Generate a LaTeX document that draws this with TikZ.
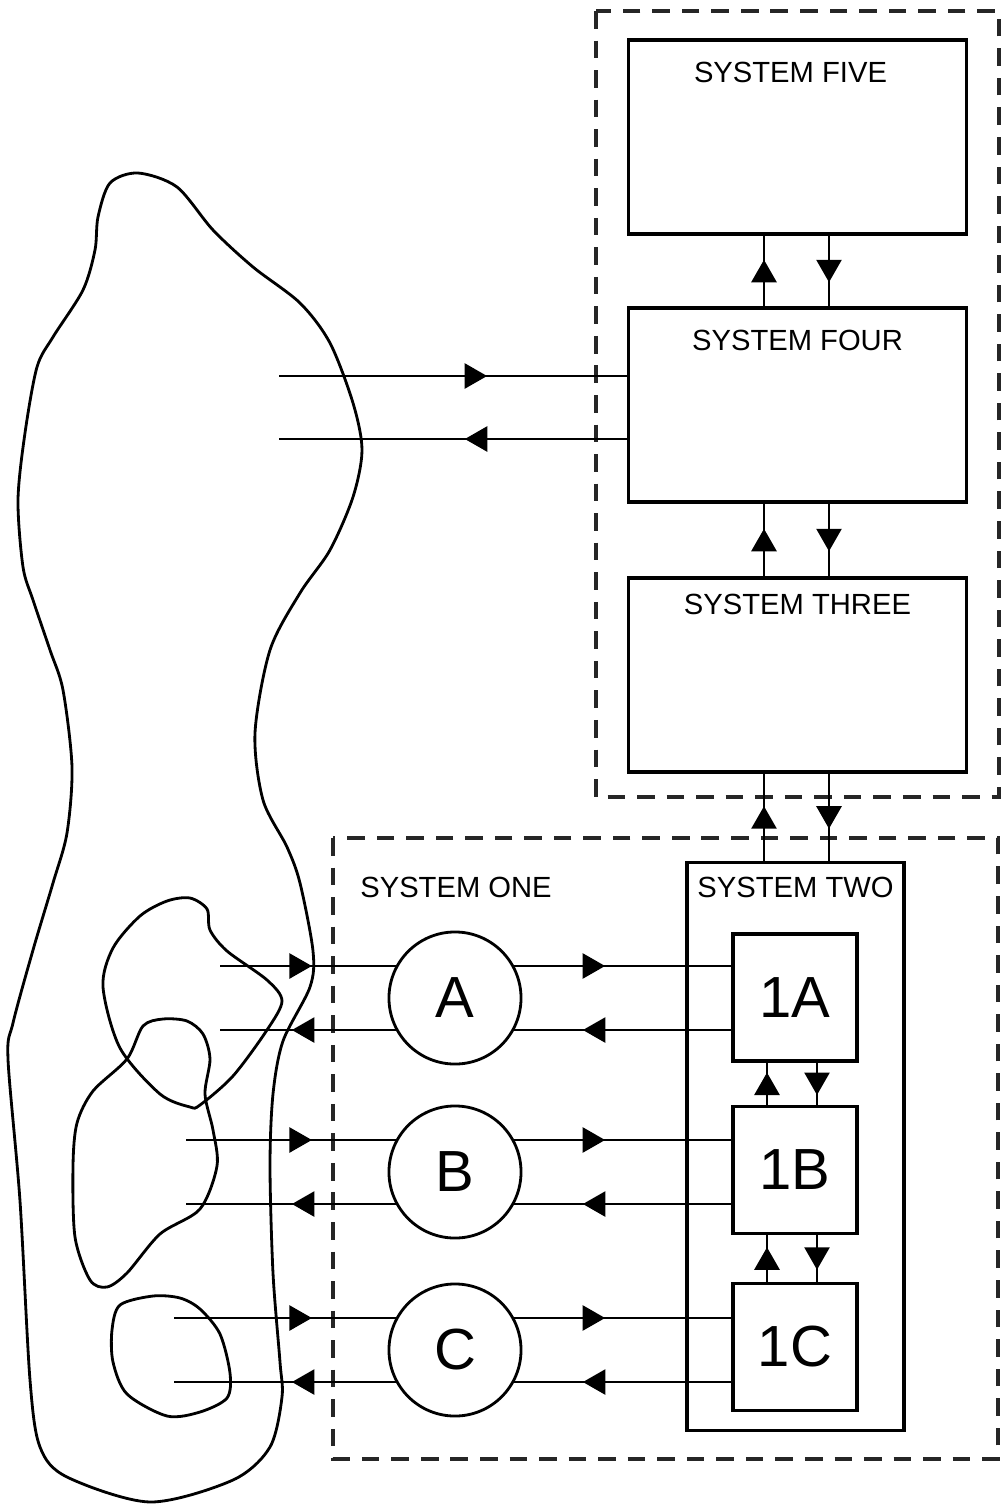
\documentclass[tikz,border=0pt]{standalone}
\usepackage{fontspec}
\setmainfont{Liberation Sans}
\usetikzlibrary{arrows.meta}
\usetikzlibrary{positioning}
\usetikzlibrary{decorations.markings}

\tikzset{
  sys/.style={draw, line width=0.9pt, inner sep=0pt, outer sep=0pt, minimum width=3.37cm, minimum height=1.94cm},
  unit/.style={draw, line width=0.9pt, inner sep=0pt, outer sep=0pt, minimum width=1.24cm, minimum height=1.27cm, font=\fontsize{16.5}{18}\selectfont},
  op/.style={draw, circle, line width=0.8pt, inner sep=0pt, outer sep=0pt, minimum size=1.32cm, font=\fontsize{16.5}{18}\selectfont},
  lbl/.style={inner sep=0pt, font=\fontsize{8.3}{10}\selectfont},
  grp/.style={draw=black!85, line width=0.9pt, dash pattern=on 5pt off 3.4pt},
  wire/.style={line width=0.8pt},
  tipat/.style={postaction={decorate}, decoration={markings, mark=at position #1 with {\arrow{Triangle[length=6.4pt,width=7.1pt]}}}},
  mid/.style={postaction={decorate}, decoration={markings, mark=at position 0.5 with {\arrow[xshift=3.2pt]{Triangle[length=6.4pt,width=7.1pt]}}}}
}

\begin{document}
\begin{tikzpicture}[x=0.01cm, y=-0.01cm]
  \useasboundingbox (0,0) rectangle (1001,1505);

  % environment
  \draw[line width=0.8pt] plot[smooth cycle] coordinates {(138,173) (177,187) (213,230) (253,267) (300,303) (330,343) (353,403) (362,450) (353,497) (330,550) (300,593) (270,650) (255,733) (263,800) (287,847) (300,883) (313,951) (310,987) (283,1041) (273,1094) (270,1166) (273,1273) (280,1362) (282,1397) (270,1447) (233,1480) (150,1502) (67,1477) (40,1447) (30,1380) (20,1201) (8,1059) (13,1023) (33,950) (53,883) (67,833) (72,767) (63,690) (50,650) (33,600) (23,567) (18,500) (25,433) (37,367) (53,337) (83,290) (95,250) (98,217) (110,183)};
  \draw[line width=0.8pt] plot[smooth cycle] coordinates {(190,898) (207,909) (210,930) (227,951) (267,980) (282,1001) (267,1030) (233,1076) (200,1105) (190,1107) (160,1094) (120,1048) (103,987) (113,948) (140,916) (167,901)};
  \draw[line width=0.8pt] plot[smooth cycle] coordinates {(163,1019) (143,1026) (127,1059) (93,1091) (77,1123) (73,1166) (75,1237) (90,1280) (107,1287) (127,1273) (160,1234) (200,1209) (217,1166) (213,1130) (205,1094) (210,1059) (203,1034) (187,1021)};
  \draw[line width=0.8pt] plot[smooth cycle] coordinates {(153,1296) (120,1305) (112,1330) (113,1362) (127,1394) (167,1416) (200,1412) (227,1398) (230,1373) (220,1334) (200,1309) (180,1298)};

  % groups
  \draw[grp] (596,11) rectangle (999,797);
  \draw[grp] (333,838) rectangle (998,1459);

  % upper systems
  \node[sys] (five) at (797.5,137) {};
  \node[sys] (four) at (797.5,405) {};
  \node[sys] (three) at (797.5,675) {};
  \node[lbl, below=0.21cm of five.north, xshift=-0.07cm] (fivelbl) {SYSTEM FIVE};
  \node[lbl, below=0.21cm of four.north] (fourlbl) {SYSTEM FOUR};
  \node[lbl, below=0.15cm of three.north] (threelbl) {SYSTEM THREE};

  % system one and two
  \node[draw, line width=0.9pt, inner sep=0pt, outer sep=0pt, minimum width=2.17cm, minimum height=5.67cm] (two) at (795.5,1146.5) {};
  \node[lbl, below=0.14cm of two.north] (twolbl) {SYSTEM TWO};
  \node[lbl] (onelbl) at (456,887) {SYSTEM ONE};

  \node[op] (opA) at (455,998) {A};
  \node[op] (opB) at (455,1172) {B};
  \node[op] (opC) at (455,1350) {C};
  \node[unit] (unA) at (795,997.5) {1A};
  \node[unit] (unB) at (795,1170) {1B};
  \node[unit] (unC) at (795,1347) {1C};

  % vertical links
  \coordinate (xu) at (764,0);
  \coordinate (xd) at (829,0);
  \draw[wire, mid] (four.north -| xu) -- (five.south -| xu);
  \draw[wire, mid] (five.south -| xd) -- (four.north -| xd);
  \draw[wire, mid] (three.north -| xu) -- (four.south -| xu);
  \draw[wire, mid] (four.south -| xd) -- (three.north -| xd);
  \draw[wire, mid] (two.north -| xu) -- (three.south -| xu);
  \draw[wire, mid] (three.south -| xd) -- (two.north -| xd);

  \coordinate (su) at (767,0);
  \coordinate (sd) at (817,0);
  \draw[wire, mid] (unB.north -| su) -- (unA.south -| su);
  \draw[wire, mid] (unA.south -| sd) -- (unB.north -| sd);
  \draw[wire, mid] (unC.north -| su) -- (unB.south -| su);
  \draw[wire, mid] (unB.south -| sd) -- (unC.north -| sd);

  % horizontal links
  \foreach \n/\f in {A/220,B/186,C/174} {
    \coordinate (in\n) at (\f,0);
    \draw[wire, tipat=-0.853cm] (op\n.151 -| in\n) -- (op\n.151);
    \draw[wire, tipat=1.053cm] (op\n.209) -- (op\n.209 -| in\n);
    \draw[wire, tipat=0.923cm] (op\n.29) -- (op\n.29 -| un\n.west);
    \draw[wire, tipat=1.5cm] (op\n.-29 -| un\n.west) -- (op\n.-29);
  }

  \coordinate (envin) at (279,376);
  \coordinate (envout) at (279,439);
  \draw[wire, tipat=2.08cm] (envin) -- (envin -| four.west);
  \draw[wire, tipat=1.64cm] (envout -| four.west) -- (envout);
\end{tikzpicture}
\end{document}
